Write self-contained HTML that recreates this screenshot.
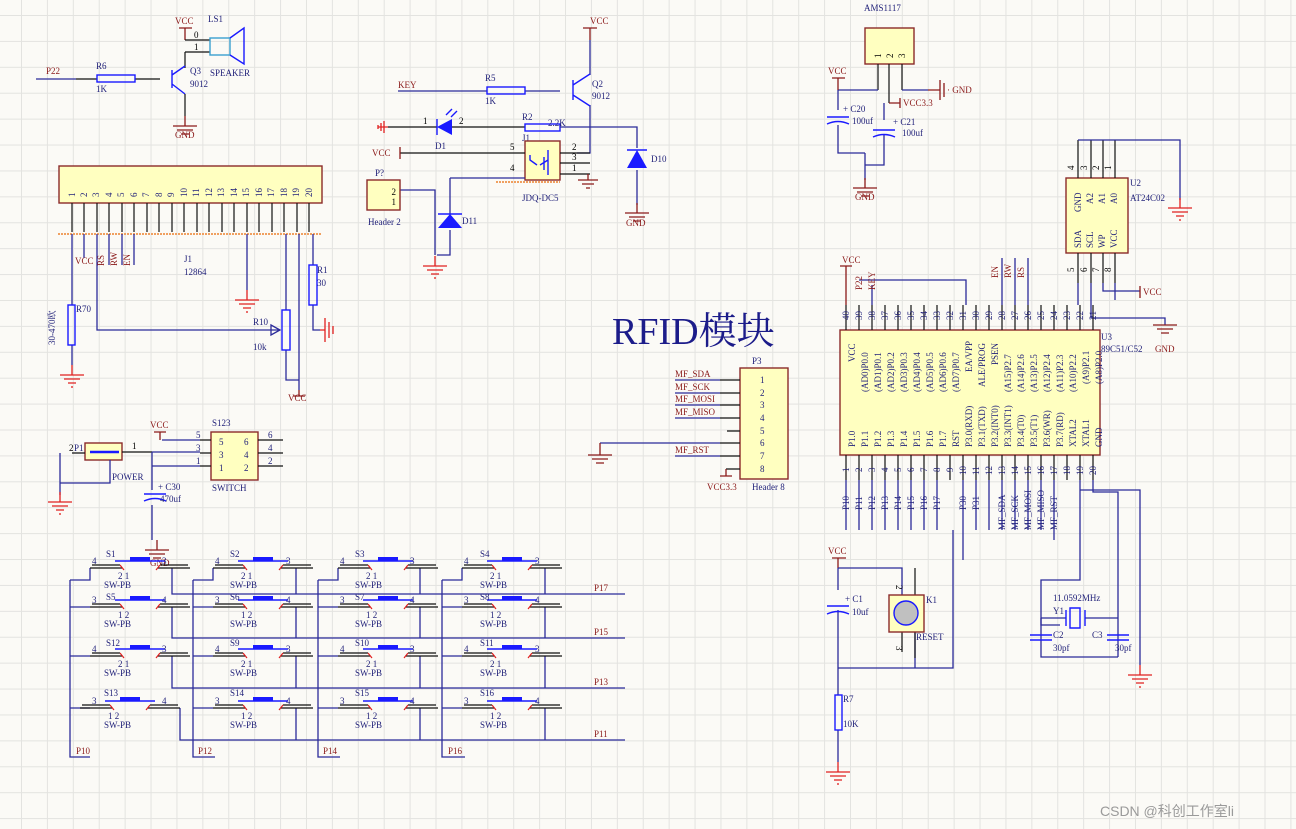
<!DOCTYPE html>
<html><head><meta charset="utf-8"><style>
html,body{margin:0;padding:0}
body{width:1296px;height:829px;overflow:hidden;background-color:#fbfaf6;
background-image:linear-gradient(to right,#e3e3e0 1px,transparent 1px),linear-gradient(to bottom,#e3e3e0 1px,transparent 1px);
background-size:25.92px 25.92px;background-position:21px 15px;}
svg{position:absolute;left:0;top:0}
text{font-family:"Liberation Serif","Noto Serif CJK SC",serif;font-size:9px;fill:#22227a}
.r{fill:#8b1a1a}.k{fill:#000}
.w{stroke:#2b2b9a;stroke-width:1.3;fill:none}
.b{stroke:#111;stroke-width:1.2;fill:none}
.p{stroke:#8b1a1a;stroke-width:1.3;fill:none}
.g{stroke:#e02020;stroke-width:1.3;fill:none}
.c{stroke:#1a1aff;stroke-width:1.4;fill:none}
.y{fill:#ffffc0;stroke:#8b2a2a;stroke-width:1.4}
</style></head><body>
<svg width="1296" height="829" viewBox="0 0 1296 829">
<defs>
<g id="gnd"><path class="g" d="M0 0V10M-12 10H12M-8 14H8M-4 18H4"/><path class="g" d="M-1 22H1"/></g>
<g id="gndr"><path class="p" d="M0 0V10M-12 10H12M-8 14H8M-4 18H4"/></g>
<g id="sw"><path class="b" d="M0 0H32M2 -3H30M68 0H100M70 -3H98"/><path class="c" d="M25 -7H75" stroke-width="2"/><rect x="40" y="-11" width="20" height="4" fill="#1a1aff"/><path d="M30 -3L34 2M70 -3L66 2" stroke="#e02020" stroke-width="1.2"/></g>
</defs>

<!-- Speaker section -->
<text x="175" y="24" class="r">VCC</text><text x="208" y="22">LS1</text>
<path class="p" d="M179 28H192M185 28V40"/>
<path class="b" d="M185 40H210M185 52H210M185 52V68"/>
<text x="194" y="38" class="k">0</text><text x="194" y="50" class="k">1</text>
<rect x="210" y="38" width="20" height="17" fill="none" stroke="#3aa0d0" stroke-width="1.4"/>
<path class="c" d="M230 38L244 28V64L230 55"/>
<text x="210" y="76">SPEAKER</text>
<path class="w" d="M36 79H76"/><text x="46" y="74" class="r">P22</text>
<path class="b" d="M76 79H97M135 79H160"/>
<rect x="97" y="75" width="38" height="7" class="c"/><text x="96" y="69">R6</text><text x="96" y="92">1K</text>
<path class="c" d="M172 70V88M172 75L185 66M172 84L185 94" stroke-width="1.6"/>
<text x="190" y="74">Q3</text><text x="190" y="87">9012</text>
<path class="b" d="M185 94V116"/><use href="#gndr" x="185" y="116"/><text x="175" y="138" class="r">GND</text>

<!-- LCD header J1 -->
<rect x="59" y="166" width="263" height="37" class="y"/>
<g class="k">
<text transform="translate(75,197) rotate(-90)">1</text><text transform="translate(87,197) rotate(-90)">2</text><text transform="translate(99,197) rotate(-90)">3</text><text transform="translate(112,197) rotate(-90)">4</text><text transform="translate(124,197) rotate(-90)">5</text><text transform="translate(137,197) rotate(-90)">6</text><text transform="translate(149,197) rotate(-90)">7</text><text transform="translate(162,197) rotate(-90)">8</text><text transform="translate(174,197) rotate(-90)">9</text><text transform="translate(187,197) rotate(-90)">10</text><text transform="translate(199,197) rotate(-90)">11</text><text transform="translate(212,197) rotate(-90)">12</text><text transform="translate(224,197) rotate(-90)">13</text><text transform="translate(237,197) rotate(-90)">14</text><text transform="translate(249,197) rotate(-90)">15</text><text transform="translate(262,197) rotate(-90)">16</text><text transform="translate(274,197) rotate(-90)">17</text><text transform="translate(287,197) rotate(-90)">18</text><text transform="translate(299,197) rotate(-90)">19</text><text transform="translate(312,197) rotate(-90)">20</text>
</g>
<path class="b" d="M72 203V232M84 203V232M97 203V232M109 203V232M122 203V232M134 203V232M147 203V232M159 203V232M172 203V232M184 203V232M197 203V232M209 203V232M222 203V232M234 203V232M247 203V232M259 203V232M272 203V232M284 203V232M297 203V232M309 203V232"/>
<path d="M58 234H322" stroke="#f0a060" stroke-width="2" stroke-dasharray="2 1"/>
<path class="w" d="M72 234V305M72 345V365M84 234V258M97 234V330H280M109 234V265M122 234V265M134 234V265M247 234V290M286 234V310M286 350V380H299M299 234V390M313 234V265M313 305V330H320"/>
<path class="w" d="M271 325L280 330L271 335Z" fill="#2b2b9a"/>
<text x="75" y="264" class="r">VCC</text>
<text transform="translate(104,266) rotate(-90)" class="r">RS</text><text transform="translate(117,266) rotate(-90)" class="r">RW</text><text transform="translate(130,266) rotate(-90)" class="r">EN</text>
<text x="184" y="262">J1</text><text x="184" y="275">12864</text>
<rect x="68" y="305" width="7" height="40" class="c"/><text x="76" y="312">R70</text>
<text transform="translate(55,345) rotate(-90)">30-470欧</text>
<use href="#gnd" x="72" y="365"/>
<use href="#gnd" x="247" y="290"/>
<rect x="282" y="310" width="8" height="40" class="c"/><text x="253" y="325">R10</text><text x="253" y="350">10k</text>
<path class="p" d="M299 390V396M293 396H305"/><text x="288" y="401" class="r">VCC</text>
<rect x="309" y="265" width="8" height="40" class="c"/><text x="317" y="273">R1</text><text x="317" y="286">30</text>
<path class="g" d="M320 330H325M325 318V342M329 322V338M333 326V334"/>

<!-- Middle relay section -->
<text x="590" y="24" class="r">VCC</text><path class="p" d="M583 28H597M590 28V40"/>
<path class="w" d="M590 40V75M590 105V127"/>
<text x="398" y="88" class="r">KEY</text>
<path class="w" d="M398 91H487M525 91H560"/>
<rect x="487" y="87" width="38" height="7" class="c"/><text x="485" y="81">R5</text><text x="485" y="104">1K</text>
<path class="c" d="M573 80V100M573 85L590 74M573 95L590 106" stroke-width="1.6"/>
<text x="592" y="87">Q2</text><text x="592" y="99">9012</text>
<path class="g" d="M378 127H388M384 121V133M381 123V131M378 125V129"/>
<path class="b" d="M388 127H437M452 127H525"/>
<path d="M437 127L452 119V135Z" fill="#1a1aff"/><path class="c" d="M437 119V135"/>
<path class="c" d="M446 115L452 109M451 117L457 111" stroke-width="1"/>
<text x="423" y="124" class="k">1</text><text x="459" y="124" class="k">2</text><text x="435" y="149">D1</text>
<rect x="525" y="124" width="35" height="7" class="c"/><text x="522" y="120">R2</text><text x="548" y="126">2.2K</text>
<path class="w" d="M560 127H637V148M637 170V205M590 127V153H577"/>
<path d="M627 168L637 150L647 168Z" fill="#1a1aff"/><path class="c" d="M627 150H647"/>
<text x="651" y="162">D10</text>
<use href="#gndr" x="637" y="203"/><text x="626" y="226" class="r">GND</text>
<text x="522" y="141">J1</text>
<rect x="525" y="141" width="35" height="39" class="y"/>
<path class="b" d="M400 153H525M560 153H590M560 163H590M560 174H590"/>
<path class="c" d="M530 155V160L537 165M540 165L548 160M548 150V175M544 157V170" stroke-width="1"/>
<text x="510" y="150" class="k">5</text><text x="572" y="150" class="k">2</text><text x="572" y="160" class="k">3</text><text x="572" y="171" class="k">1</text>
<text x="510" y="171" class="k">4</text>
<path class="p" d="M400 147V159"/><text x="372" y="156" class="r">VCC</text>
<path class="p" d="M588 174V180M578 180H598M582 184H594M586 188H590"/>
<path d="M496 182H560" stroke="#f0a060" stroke-width="2" stroke-dasharray="2 1"/>
<text x="522" y="201">JDQ-DC5</text>
<path class="w" d="M450 178H525M450 178V215M450 230V255H437M400 190H435V255"/>
<text x="375" y="176">P?</text>
<rect x="367" y="180" width="33" height="30" class="y"/>
<text x="396" y="195" class="k" text-anchor="end">2</text><text x="396" y="205" class="k" text-anchor="end">1</text>
<text x="368" y="225">Header 2</text>
<path d="M438 228L450 214L462 228Z" fill="#1a1aff"/><path class="c" d="M438 214H462"/>
<text x="462" y="224">D11</text>
<use href="#gnd" x="435" y="256"/>

<!-- RFID -->
<text x="612" y="344" style="font-size:38px;fill:#1c1c8a">RFID模块</text>
<text x="752" y="364">P3</text>
<rect x="740" y="368" width="48" height="111" class="y"/>
<g class="k"><text x="760" y="383">1</text><text x="760" y="396">2</text><text x="760" y="408">3</text><text x="760" y="421">4</text><text x="760" y="434">5</text><text x="760" y="446">6</text><text x="760" y="459">7</text><text x="760" y="472">8</text></g>
<path class="w" d="M675 380H720M675 393H720M675 405H720M675 418H720M600 443H720M675 456H720"/>
<path class="b" d="M720 380H740M720 393H740M720 405H740M720 418H740M727 431H740M720 443H740M720 456H740M726 469H740"/>
<text x="675" y="377" class="r">MF_SDA</text><text x="675" y="390" class="r">MF_SCK</text><text x="675" y="402" class="r">MF_MOSI</text><text x="675" y="415" class="r">MF_MISO</text><text x="675" y="453" class="r">MF_RST</text>
<path class="p" d="M600 443V455M588 455H612M592 459H608M596 463H604"/>
<path class="p" d="M726 469V476M720 476H732"/>
<text x="707" y="490" class="r">VCC3.3</text><text x="752" y="490">Header 8</text>

<!-- AMS1117 -->
<text x="864" y="11">AMS1117</text>
<rect x="865" y="28" width="49" height="36" class="y"/>
<text transform="translate(881,58) rotate(-90)" class="k">1</text><text transform="translate(893,58) rotate(-90)" class="k">2</text><text transform="translate(905,58) rotate(-90)" class="k">3</text>
<path class="b" d="M878 64V90M889 64V103M902 64V90"/>
<path class="w" d="M838 90H878M902 90H928M838 90V110M838 125V153H865M884 103V120M884 135V165H865M865 153V180"/>
<path class="p" d="M889 103H900M900 98V108M928 90H940M940 80V100M944 83V97"/>
<text x="947" y="93" class="r">· GND</text><text x="903" y="106" class="r">VCC3.3</text>
<text x="828" y="74" class="r">VCC</text><path class="p" d="M832 78H845M838 78V90"/>
<path class="c" d="M827 117H849M827 124Q838 119 849 124M873 130H895M873 137Q884 132 895 137"/>
<text x="843" y="112">+ C20</text><text x="852" y="124">100uf</text><text x="893" y="125">+ C21</text><text x="902" y="136">100uf</text>
<use href="#gndr" x="865" y="178"/><text x="855" y="200" class="r">GND</text>

<!-- U2 AT24C02 -->
<rect x="1066" y="178" width="62" height="75" class="y"/>
<path class="b" d="M1078 140V178M1091 140V178M1103 140V178M1115 140V178M1078 253V283M1091 253V283M1103 253V283M1115 253V283"/>
<path class="w" d="M1078 140H1180V200M1078 283V305M1103 283V291H1140M1115 283V300M1091 283V318H1165V325"/>
<use href="#gnd" x="1180" y="198"/>
<text transform="translate(1074,170) rotate(-90)" class="k">4</text><text transform="translate(1087,170) rotate(-90)" class="k">3</text><text transform="translate(1099,170) rotate(-90)" class="k">2</text><text transform="translate(1111,170) rotate(-90)" class="k">1</text>
<text transform="translate(1074,272) rotate(-90)" class="k">5</text><text transform="translate(1087,272) rotate(-90)" class="k">6</text><text transform="translate(1099,272) rotate(-90)" class="k">7</text><text transform="translate(1111,272) rotate(-90)" class="k">8</text>
<g class="k"><text transform="translate(1081,212) rotate(-90)">GND</text><text transform="translate(1093,204) rotate(-90)">A2</text><text transform="translate(1105,204) rotate(-90)">A1</text><text transform="translate(1117,204) rotate(-90)">A0</text>
<text transform="translate(1081,248) rotate(-90)">SDA</text><text transform="translate(1093,248) rotate(-90)">SCL</text><text transform="translate(1105,248) rotate(-90)">WP</text><text transform="translate(1117,248) rotate(-90)">VCC</text></g>
<text x="1130" y="186">U2</text><text x="1130" y="201">AT24C02</text>
<path class="p" d="M1140 286V298"/><text x="1143" y="295" class="r">VCC</text>
<path class="p" d="M1153 325H1177M1157 329H1173M1161 333H1169"/><text x="1155" y="352" class="r">GND</text>

<!-- U3 89C51 -->
<rect x="840" y="330" width="260" height="125" class="y"/>
<path class="b" d="M846 305V330M859 305V330M872 305V330M885 305V330M898 305V330M911 305V330M924 305V330M937 305V330M950 305V330M963 305V330M976 305V330M989 305V330M1002 305V330M1015 305V330M1028 305V330M1041 305V330M1054 305V330M1067 305V330M1080 305V330M1093 305V330
M846 455V480M859 455V480M872 455V480M885 455V480M898 455V480M911 455V480M924 455V480M937 455V480M950 455V480M963 455V480M976 455V480M989 455V480M1002 455V480M1015 455V480M1028 455V480M1041 455V480M1054 455V480M1067 455V480M1080 455V480M1093 455V480"/>
<path class="w" d="M859 280H966V305M872 285V305M1002 258V305M1015 258V305M1028 258V305
M846 480V530M859 480V530M872 480V530M885 480V530M898 480V530M911 480V530M924 480V530M937 480V530M963 480V560M976 480V530M989 480V530M1002 480V530M1015 480V530M1028 480V530M1041 480V530M1054 480V540M1080 480V580H1041V625H1060M1093 480V492H1118V657M1080 480V490H1140V665"/>
<path class="p" d="M846 266V305M840 266H852"/><text x="842" y="263" class="r">VCC</text>
<text transform="translate(862,290) rotate(-90)" class="r">P22</text><text transform="translate(875,290) rotate(-90)" class="r">KEY</text>
<text transform="translate(998,278) rotate(-90)" class="r">EN</text><text transform="translate(1011,278) rotate(-90)" class="r">RW</text><text transform="translate(1024,278) rotate(-90)" class="r">RS</text>
<g class="k">
<text transform="translate(849,320) rotate(-90)">40</text><text transform="translate(862,320) rotate(-90)">39</text><text transform="translate(875,320) rotate(-90)">38</text><text transform="translate(888,320) rotate(-90)">37</text><text transform="translate(901,320) rotate(-90)">36</text><text transform="translate(914,320) rotate(-90)">35</text><text transform="translate(927,320) rotate(-90)">34</text><text transform="translate(940,320) rotate(-90)">33</text><text transform="translate(953,320) rotate(-90)">32</text><text transform="translate(966,320) rotate(-90)">31</text><text transform="translate(979,320) rotate(-90)">30</text><text transform="translate(992,320) rotate(-90)">29</text><text transform="translate(1005,320) rotate(-90)">28</text><text transform="translate(1018,320) rotate(-90)">27</text><text transform="translate(1031,320) rotate(-90)">26</text><text transform="translate(1044,320) rotate(-90)">25</text><text transform="translate(1057,320) rotate(-90)">24</text><text transform="translate(1070,320) rotate(-90)">23</text><text transform="translate(1083,320) rotate(-90)">22</text><text transform="translate(1096,320) rotate(-90)">21</text>
<text transform="translate(849,472) rotate(-90)">1</text><text transform="translate(862,472) rotate(-90)">2</text><text transform="translate(875,472) rotate(-90)">3</text><text transform="translate(888,472) rotate(-90)">4</text><text transform="translate(901,472) rotate(-90)">5</text><text transform="translate(914,472) rotate(-90)">6</text><text transform="translate(927,472) rotate(-90)">7</text><text transform="translate(940,472) rotate(-90)">8</text><text transform="translate(953,472) rotate(-90)">9</text><text transform="translate(966,475) rotate(-90)">10</text><text transform="translate(979,475) rotate(-90)">11</text><text transform="translate(992,475) rotate(-90)">12</text><text transform="translate(1005,475) rotate(-90)">13</text><text transform="translate(1018,475) rotate(-90)">14</text><text transform="translate(1031,475) rotate(-90)">15</text><text transform="translate(1044,475) rotate(-90)">16</text><text transform="translate(1057,475) rotate(-90)">17</text><text transform="translate(1070,475) rotate(-90)">18</text><text transform="translate(1083,475) rotate(-90)">19</text><text transform="translate(1096,475) rotate(-90)">20</text>
</g>
<g class="k">
<text transform="translate(855,362) rotate(-90)">VCC</text><text transform="translate(868,392) rotate(-90)">(AD0)P0.0</text><text transform="translate(881,392) rotate(-90)">(AD1)P0.1</text><text transform="translate(894,392) rotate(-90)">(AD2)P0.2</text><text transform="translate(907,392) rotate(-90)">(AD3)P0.3</text><text transform="translate(920,392) rotate(-90)">(AD4)P0.4</text><text transform="translate(933,392) rotate(-90)">(AD5)P0.5</text><text transform="translate(946,392) rotate(-90)">(AD6)P0.6</text><text transform="translate(959,392) rotate(-90)">(AD7)P0.7</text><text transform="translate(972,372) rotate(-90)">EA/VPP</text><text transform="translate(985,387) rotate(-90)">ALE/PROG</text><text transform="translate(998,365) rotate(-90)">PSEN</text><text transform="translate(1011,392) rotate(-90)">(A15)P2.7</text><text transform="translate(1024,392) rotate(-90)">(A14)P2.6</text><text transform="translate(1037,392) rotate(-90)">(A13)P2.5</text><text transform="translate(1050,392) rotate(-90)">(A12)P2.4</text><text transform="translate(1063,392) rotate(-90)">(A11)P2.3</text><text transform="translate(1076,392) rotate(-90)">(A10)P2.2</text><text transform="translate(1089,384) rotate(-90)">(A9)P2.1</text><text transform="translate(1102,384) rotate(-90)">(A8)P2.0</text>
<text transform="translate(855,447) rotate(-90)">P1.0</text><text transform="translate(868,447) rotate(-90)">P1.1</text><text transform="translate(881,447) rotate(-90)">P1.2</text><text transform="translate(894,447) rotate(-90)">P1.3</text><text transform="translate(907,447) rotate(-90)">P1.4</text><text transform="translate(920,447) rotate(-90)">P1.5</text><text transform="translate(933,447) rotate(-90)">P1.6</text><text transform="translate(946,447) rotate(-90)">P1.7</text><text transform="translate(959,447) rotate(-90)">RST</text><text transform="translate(972,447) rotate(-90)">P3.0(RXD)</text><text transform="translate(985,447) rotate(-90)">P3.1(TXD)</text><text transform="translate(998,447) rotate(-90)">P3.2(INT0)</text><text transform="translate(1011,447) rotate(-90)">P3.3(INT1)</text><text transform="translate(1024,447) rotate(-90)">P3.4(T0)</text><text transform="translate(1037,447) rotate(-90)">P3.5(T1)</text><text transform="translate(1050,447) rotate(-90)">P3.6(WR)</text><text transform="translate(1063,447) rotate(-90)">P3.7(RD)</text><text transform="translate(1076,447) rotate(-90)">XTAL2</text><text transform="translate(1089,447) rotate(-90)">XTAL1</text><text transform="translate(1102,447) rotate(-90)">GND</text>
</g>
<text x="1101" y="340">U3</text><text x="1101" y="352">89C51/C52</text>
<g class="r"><text transform="translate(849,510) rotate(-90)">P10</text><text transform="translate(862,510) rotate(-90)">P11</text><text transform="translate(875,510) rotate(-90)">P12</text><text transform="translate(888,510) rotate(-90)">P13</text><text transform="translate(901,510) rotate(-90)">P14</text><text transform="translate(914,510) rotate(-90)">P15</text><text transform="translate(927,510) rotate(-90)">P16</text><text transform="translate(940,510) rotate(-90)">P17</text><text transform="translate(966,510) rotate(-90)">P30</text><text transform="translate(979,510) rotate(-90)">P31</text>
<text transform="translate(1005,530) rotate(-90)">MF_SDA</text><text transform="translate(1018,530) rotate(-90)">MF_SCK</text><text transform="translate(1031,530) rotate(-90)">MF_MOSI</text><text transform="translate(1044,530) rotate(-90)">MF_MISO</text><text transform="translate(1057,530) rotate(-90)">MF_RST</text></g>

<!-- Reset -->
<text x="828" y="554" class="r">VCC</text><path class="p" d="M832 558H846M838 558V568"/>
<path class="w" d="M838 568H902V595M838 568V590M838 610V668H953V530M838 668V695M838 730V762M915 632V668"/>
<path class="b" d="M915 568V595M902 632V652M915 632V658"/>
<path class="c" d="M827 606H849M827 614Q838 609 849 614"/>
<text x="845" y="602">+ C1</text><text x="852" y="615">10uf</text>
<rect x="889" y="595" width="35" height="37" class="y"/><circle cx="906" cy="613" r="12" fill="#c0c0c0" stroke="#1a1aff" stroke-width="1.4"/>
<text x="926" y="603">K1</text><text x="916" y="640">RESET</text>
<text transform="translate(896,585) rotate(90)" class="k">2</text><text transform="translate(896,646) rotate(90)" class="k">3</text>
<rect x="835" y="695" width="7" height="35" class="c"/><text x="843" y="702">R7</text><text x="843" y="727">10K</text>
<use href="#gnd" x="838" y="762"/>
<!-- crystal -->
<path class="w" d="M1041 618V657H1118M1041 618H1066M1085 618H1118"/>
<path class="c" d="M1066 610V626M1070 608H1080V628H1070ZM1085 610V626M1030 635H1052M1030 640H1052M1107 635H1129M1107 640H1129"/>
<text x="1053" y="601">11.0592MHz</text><text x="1053" y="614">Y1</text>
<text x="1053" y="638">C2</text><text x="1053" y="651">30pf</text><text x="1092" y="638">C3</text><text x="1115" y="651">30pf</text>
<use href="#gnd" x="1140" y="665"/>

<!-- Power -->
<text x="69" y="451" class="k">2</text><text x="74" y="451">P1</text>
<rect x="85" y="443" width="37" height="17" class="y"/><path d="M90 452H119" stroke="#1a1aff" stroke-width="2.5"/>
<path class="b" d="M122 452H152M72 453H85"/><text x="132" y="449" class="k">1</text>
<path class="w" d="M60 453V483H110V460M60 483V495M152 452V490M152 505V540M152 452H200M162 440H200M152 466H200"/>
<text x="112" y="480">POWER</text>
<use href="#gnd" x="60" y="492"/>
<text x="150" y="428" class="r">VCC</text><path class="p" d="M154 432H166M160 432V440"/>
<text x="212" y="426">S123</text>
<rect x="211" y="432" width="47" height="48" class="y"/>
<path class="b" d="M200 440H211M200 453H211M200 466H211M258 440H283M258 453H283M258 466H283"/>
<g class="k"><text x="196" y="438">5</text><text x="196" y="451">3</text><text x="196" y="464">1</text><text x="219" y="445">5</text><text x="219" y="458">3</text><text x="219" y="471">1</text><text x="244" y="445">6</text><text x="244" y="458">4</text><text x="244" y="471">2</text><text x="268" y="438">6</text><text x="268" y="451">4</text><text x="268" y="464">2</text></g>
<text x="212" y="491">SWITCH</text>
<path class="c" d="M144 494H166M144 501Q155 496 166 501"/>
<text x="158" y="490">+ C30</text><text x="160" y="502">470uf</text>
<use href="#gndr" x="157" y="540"/><text x="150" y="566" class="r">GND</text>

<!-- Switch matrix -->
<path class="w" d="M70 580V757H90M193 580V757H215M318 580V757H340M442 580V757H465
M172 568V594H625M296 568V594M420 568V594M545 568V594
M172 607V638H625M296 607V638M420 607V638M545 607V638
M172 656V688H625M296 656V688M420 656V688M545 656V688
M180 708V740H625M296 708V740M420 708V740M545 708V740
M70 607H90M193 607H213M318 607H338M442 607H462M70 656H90M193 656H213M318 656H338M442 656H462M70 708H90M193 708H213M318 708H338M442 708H462M70 580H90V568M193 580H213V568M318 580H338V568M442 580H462V568"/>
<use href="#sw" x="90" y="568"/><use href="#sw" x="213" y="568"/><use href="#sw" x="338" y="568"/><use href="#sw" x="462" y="568"/>
<use href="#sw" x="90" y="607"/><use href="#sw" x="213" y="607"/><use href="#sw" x="338" y="607"/><use href="#sw" x="462" y="607"/>
<use href="#sw" x="90" y="656"/><use href="#sw" x="213" y="656"/><use href="#sw" x="338" y="656"/><use href="#sw" x="462" y="656"/>
<use href="#sw" x="80" y="708"/><use href="#sw" x="213" y="708"/><use href="#sw" x="338" y="708"/><use href="#sw" x="462" y="708"/>
<g>
<text x="106" y="557">S1</text><text x="230" y="557">S2</text><text x="355" y="557">S3</text><text x="480" y="557">S4</text>
<text x="106" y="600">S5</text><text x="230" y="600">S6</text><text x="355" y="600">S7</text><text x="480" y="600">S8</text>
<text x="106" y="646">S12</text><text x="230" y="646">S9</text><text x="355" y="646">S10</text><text x="480" y="646">S11</text>
<text x="104" y="696">S13</text><text x="230" y="696">S14</text><text x="355" y="696">S15</text><text x="480" y="696">S16</text>
<text x="104" y="588">SW-PB</text><text x="230" y="588">SW-PB</text><text x="355" y="588">SW-PB</text><text x="480" y="588">SW-PB</text>
<text x="104" y="627">SW-PB</text><text x="230" y="627">SW-PB</text><text x="355" y="627">SW-PB</text><text x="480" y="627">SW-PB</text>
<text x="104" y="676">SW-PB</text><text x="230" y="676">SW-PB</text><text x="355" y="676">SW-PB</text><text x="480" y="676">SW-PB</text>
<text x="104" y="728">SW-PB</text><text x="230" y="728">SW-PB</text><text x="355" y="728">SW-PB</text><text x="480" y="728">SW-PB</text>
<text x="118" y="579">2  1</text><text x="241" y="579">2  1</text><text x="366" y="579">2  1</text><text x="490" y="579">2  1</text>
<text x="118" y="618">1  2</text><text x="241" y="618">1  2</text><text x="366" y="618">1  2</text><text x="490" y="618">1  2</text>
<text x="118" y="667">2  1</text><text x="241" y="667">2  1</text><text x="366" y="667">2  1</text><text x="490" y="667">2  1</text>
<text x="108" y="719">1  2</text><text x="241" y="719">1  2</text><text x="366" y="719">1  2</text><text x="490" y="719">1  2</text>
</g>
<g class="k">
<text x="92" y="564">4</text><text x="162" y="564">3</text><text x="215" y="564">4</text><text x="286" y="564">3</text><text x="340" y="564">4</text><text x="410" y="564">3</text><text x="464" y="564">4</text><text x="535" y="564">3</text>
<text x="92" y="603">3</text><text x="162" y="603">4</text><text x="215" y="603">3</text><text x="286" y="603">4</text><text x="340" y="603">3</text><text x="410" y="603">4</text><text x="464" y="603">3</text><text x="535" y="603">4</text>
<text x="92" y="652">4</text><text x="162" y="652">3</text><text x="215" y="652">4</text><text x="286" y="652">3</text><text x="340" y="652">4</text><text x="410" y="652">3</text><text x="464" y="652">4</text><text x="535" y="652">3</text>
<text x="92" y="704">3</text><text x="162" y="704">4</text><text x="215" y="704">3</text><text x="286" y="704">4</text><text x="340" y="704">3</text><text x="410" y="704">4</text><text x="464" y="704">3</text><text x="535" y="704">4</text>
</g>
<text x="594" y="591" class="r">P17</text><text x="594" y="635" class="r">P15</text><text x="594" y="685" class="r">P13</text><text x="594" y="737" class="r">P11</text>
<text x="76" y="754" class="r">P10</text><text x="198" y="754" class="r">P12</text><text x="323" y="754" class="r">P14</text><text x="448" y="754" class="r">P16</text>

<text x="1100" y="816" style="font-family:'Liberation Sans','Noto Sans CJK SC',sans-serif;font-size:14px;fill:#9a9a9a">CSDN @科创工作室li</text>
</svg>
</body></html>
